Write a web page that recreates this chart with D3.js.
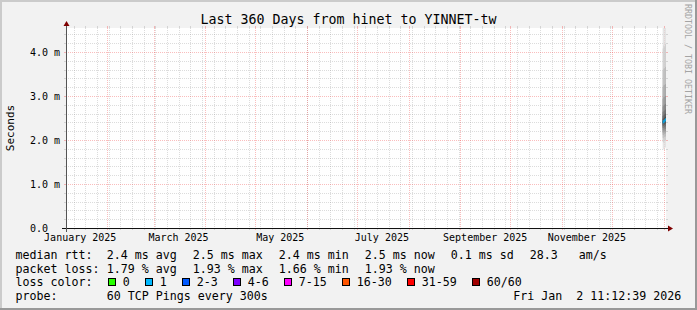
<!DOCTYPE html>
<html>
<head>
<meta charset="utf-8">
<script src="https://cdn.jsdelivr.net/npm/d3@7"></script>
<style>
body { margin: 0; background: #f2f2f2; }
svg text { font-family: "DejaVu Sans Mono", monospace; white-space: pre; }
</style>
</head>
<body>
<div id="graph"></div>
<script>
// time range shown (360 days up to the moment the graph was made)
var rangeStart = "2025-01-07T11:12:39Z";
var rangeEnd = "2026-01-02T11:12:39Z";

// y axis, in milliseconds
var yMax = 4.545;
var yTicks = [0, 1, 2, 3, 4];

// months that get a label
var labelMonths = ["2025-01-01", "2025-03-01", "2025-05-01", "2025-07-01", "2025-09-01", "2025-11-01"];

// the only data in the graph: a few 12h steps at the very end
var rowTimes = ["2025-12-31T12:00:00Z", "2026-01-01T00:00:00Z", "2026-01-01T12:00:00Z", "2026-01-02T00:00:00Z"];
// sorted ping round trip times (ms) of every step, fastest first
var rowPings = [
    [1.80, 1.96, 2.05, 2.12, 2.17, 2.22, 2.27, 2.31, 2.35, 2.39, 2.43, 2.48, 2.55, 2.64, 2.76, 2.94, 3.20, 3.58, 4.08, 4.85],
    [1.78, 1.94, 2.04, 2.11, 2.17, 2.22, 2.27, 2.32, 2.36, 2.40, 2.44, 2.49, 2.56, 2.65, 2.78, 2.97, 3.24, 3.62, 4.15, 4.95],
    [1.82, 1.98, 2.07, 2.14, 2.19, 2.24, 2.29, 2.34, 2.38, 2.42, 2.46, 2.51, 2.58, 2.67, 2.80, 2.98, 3.25, 3.63, 4.12, 4.90],
    [1.83, 1.99, 2.08, 2.15, 2.20, 2.25, 2.31, 2.36, 2.40, 2.44, 2.48, 2.53, 2.60, 2.69, 2.82, 3.00, 3.27, 3.66, 4.18, 5.00]
];
var rowMedian = [2.41, 2.42, 2.44, 2.46];
var rowLoss = [1.66, 1.79, 1.79, 1.93];   // percent of 60 pings

// loss colour legend
var lossLabels = ["0", "1", "2-3", "4-6", "7-15", "16-30", "31-59", "60/60"];
var lossUpper = [0, 1, 3, 6, 15, 30, 59, 60];
var lossColors = ["#26ff00", "#00b8ff", "#0059ff", "#7e00ff", "#ff00ff", "#ff5500", "#ff0000", "#a10000"];

// legend texts
var titleText = "Last 360 Days from hinet to YINNET-tw";
var rttItems = ["2.4 ms avg", "2.5 ms max", "2.4 ms min", "2.5 ms now", "0.1 ms sd", "28.3   am/s"];
var lossItems = ["1.79 % avg", "1.93 % max", "1.66 % min", "1.93 % now"];
var probeText = "60 TCP Pings every 300s";
var dateText = "Fri Jan  2 11:12:39 2026";

var width = 697;
var height = 310;
var x0 = 66, x1 = 666, yTop = 28, yBottom = 228;

var svg = d3.select('#graph')
    .append('svg')
    .attr('width', width)
    .attr('height', height);

// background with the 3d frame
svg.append('rect').attr('width', width).attr('height', height).attr('fill', '#f2f2f2');
svg.append('rect').attr('x', 0).attr('y', 0).attr('width', width).attr('height', 2).attr('fill', '#cbcbcb');
svg.append('rect').attr('x', 0).attr('y', 0).attr('width', 2).attr('height', height).attr('fill', '#cbcbcb');
svg.append('rect').attr('x', width - 2).attr('y', 0).attr('width', 2).attr('height', height).attr('fill', '#999999');
svg.append('rect').attr('x', 0).attr('y', height - 2).attr('width', width).attr('height', 2).attr('fill', '#999999');

// canvas
svg.append('rect')
    .attr('x', x0).attr('y', yTop)
    .attr('width', x1 - x0).attr('height', yBottom - yTop)
    .attr('fill', '#ffffff');

var xScale = d3.scaleUtc()
    .domain([new Date(rangeStart), new Date(rangeEnd)])
    .range([x0, x1]);
var yScale = d3.scaleLinear()
    .domain([0, yMax])
    .range([yBottom, yTop]);

// grid
var grid = svg.append('g').attr('shape-rendering', 'crispEdges');

function hLine(v, color) {
    var yy = Math.round(yScale(v)) + 0.5;
    grid.append('line').attr('x1', x0 - 2).attr('x2', x0).attr('y1', yy).attr('y2', yy).attr('stroke', color);
    grid.append('line').attr('x1', x1).attr('x2', x1 + 2).attr('y1', yy).attr('y2', yy).attr('stroke', color);
    grid.append('line').attr('x1', x0).attr('x2', x1).attr('y1', yy).attr('y2', yy)
        .attr('stroke', color).attr('stroke-dasharray', '1,1');
}
function vLine(d, color) {
    var xx = Math.round(xScale(d)) + 0.5;
    grid.append('line').attr('x1', xx).attr('x2', xx).attr('y1', yBottom).attr('y2', yBottom + 2).attr('stroke', color);
    grid.append('line').attr('x1', xx).attr('x2', xx).attr('y1', yTop - 2).attr('y2', yTop).attr('stroke', color);
    grid.append('line').attr('x1', xx).attr('x2', xx).attr('y1', yTop).attr('y2', yBottom)
        .attr('stroke', color).attr('stroke-dasharray', '1,1');
}

var minorGrid = 'rgba(140,140,140,0.3)';
var majorGrid = 'rgba(240,50,50,0.32)';

yScale.ticks(22).forEach(function(v) {
    if (v > 0 && Math.abs(v - Math.round(v)) > 1e-6) hLine(v, minorGrid);
});
d3.utcSunday.range(xScale.domain()[0], xScale.domain()[1]).forEach(function(d) {
    vLine(d, minorGrid);
});
yTicks.forEach(function(v) {
    if (v > 0) hLine(v, majorGrid);
});
d3.utcMonth.range(xScale.domain()[0], xScale.domain()[1]).forEach(function(d) {
    vLine(d, majorGrid);
});

svg.append('clipPath').attr('id', 'clip')
    .append('rect')
    .attr('x', x0).attr('y', yTop)
    .attr('width', x1 - x0).attr('height', yBottom - yTop);

// smoke: nested bands between the i-th fastest and i-th slowest ping
var smoke = svg.append('g').attr('clip-path', 'url(#clip)');
var stepMs = 12 * 3600 * 1000;

rowTimes.forEach(function(t, r) {
    var start = new Date(t);
    var end = new Date(start.getTime() + stepMs);
    var xa = xScale(start);
    var xb = xScale(end);
    var pings = rowPings[r];
    var n = pings.length;
    var half = n / 2;
    for (var ibot = 1, itop = n; itop > ibot; ibot++, itop--) {
        var c = Math.floor(190 / half * (half - ibot)) + 50;
        smoke.append('rect')
            .attr('x', xa)
            .attr('width', xb - xa)
            .attr('y', yScale(pings[itop - 1]))
            .attr('height', yScale(pings[ibot - 1]) - yScale(pings[itop - 1]))
            .attr('fill', d3.rgb(c, c, c));
    }
});

// median, coloured by loss
rowTimes.forEach(function(t, r) {
    var start = new Date(t);
    var end = new Date(start.getTime() + stepMs);
    var lost = Math.round(rowLoss[r] * 60 / 100);
    var k = lossUpper.findIndex(function(u) { return lost <= u; });
    smoke.append('rect')
        .attr('x', xScale(start))
        .attr('width', xScale(end) - xScale(start))
        .attr('y', yScale(rowMedian[r]) - 1.5)
        .attr('height', 3)
        .attr('fill', lossColors[k]);
});

// axes
var axisY = yBottom + 0.5;
svg.append('line').attr('x1', x0 - 4).attr('x2', x1 + 4).attr('y1', axisY).attr('y2', axisY)
    .attr('stroke', '#111').attr('shape-rendering', 'crispEdges');
svg.append('line').attr('x1', x0 + 0.5).attr('x2', x0 + 0.5).attr('y1', yBottom + 4).attr('y2', yTop - 4)
    .attr('stroke', '#555').attr('shape-rendering', 'crispEdges');
svg.append('path')
    .attr('d', 'M' + (x1 + 2) + ',' + (axisY - 3) + 'L' + (x1 + 2) + ',' + (axisY + 3) + 'L' + (x1 + 7) + ',' + axisY + 'Z')
    .attr('fill', '#7f0000');
svg.append('path')
    .attr('d', 'M' + (x0 + 0.5 - 3) + ',' + (yTop - 2) + 'L' + (x0 + 0.5 + 3) + ',' + (yTop - 2) + 'L' + (x0 + 0.5) + ',' + (yTop - 7) + 'Z')
    .attr('fill', '#7f0000');

// y tick labels
svg.append('g').selectAll('text')
    .data(yTicks)
    .enter()
    .append('text')
    .attr('x', 30)
    .attr('y', function(v) { return yScale(v) + 3.6; })
    .attr('font-size', '10px')
    .attr('fill', '#000')
    .text(function(v) { return v === 0 ? '0.0' : v.toFixed(1) + ' m'; });

// x labels, centred half a month after the start of the month
var monthFormat = d3.utcFormat('%B %Y');
svg.append('g').selectAll('text')
    .data(labelMonths.map(function(s) { return new Date(s + 'T00:00:00Z'); }))
    .enter()
    .append('text')
    .attr('x', function(d) { return xScale(d3.utcDay.offset(d, 15)); })
    .attr('y', 240.5)
    .attr('text-anchor', 'middle')
    .attr('font-size', '10px')
    .attr('fill', '#000')
    .text(function(d) { return monthFormat(d); });

// title and side texts
svg.append('text')
    .attr('x', width / 2).attr('y', 23.5)
    .attr('text-anchor', 'middle')
    .attr('font-size', '13.3px')
    .attr('fill', '#000')
    .text(titleText);

svg.append('text')
    .attr('transform', 'translate(14.3,128) rotate(-90)')
    .attr('text-anchor', 'middle')
    .attr('font-size', '11px')
    .attr('fill', '#000')
    .text('Seconds');

svg.append('text')
    .attr('transform', 'translate(684.6,4) rotate(90)')
    .attr('font-size', '8.3px')
    .attr('fill', '#a4a4a4')
    .text('RRDTOOL / TOBI OETIKER');

// legend
var legendFont = '11.63px';
var rowY = [258.7, 272.5, 286.2, 300];
var labelX = 15.5;
var colX = 106.7;
var gap = 16;

function legendText(x, y, s) {
    return svg.append('text')
        .attr('x', x).attr('y', y)
        .attr('font-size', legendFont)
        .attr('fill', '#000')
        .text(s);
}

function legendRow(y, label, items) {
    legendText(labelX, y, label);
    var x = colX;
    items.forEach(function(s) {
        var t = legendText(x, y, s);
        x += t.node().getComputedTextLength() + gap;
    });
}

legendRow(rowY[0], 'median rtt:', rttItems);
legendRow(rowY[1], 'packet loss:', lossItems);

legendText(labelX, rowY[2], 'loss color:');
var bx = 108.5;
lossLabels.forEach(function(s, i) {
    svg.append('rect')
        .attr('x', bx).attr('y', 278.5)
        .attr('width', 7).attr('height', 7)
        .attr('fill', lossColors[i])
        .attr('stroke', '#000')
        .attr('shape-rendering', 'crispEdges');
    var t = legendText(bx + 14.2, rowY[2], s);
    bx = bx + 14.2 + t.node().getComputedTextLength() + 15.8;
});

legendText(labelX, rowY[3], 'probe:');
legendText(colX, rowY[3], probeText);
legendText(681.3, rowY[3], dateText).attr('text-anchor', 'end');
</script>
</body>
</html>
